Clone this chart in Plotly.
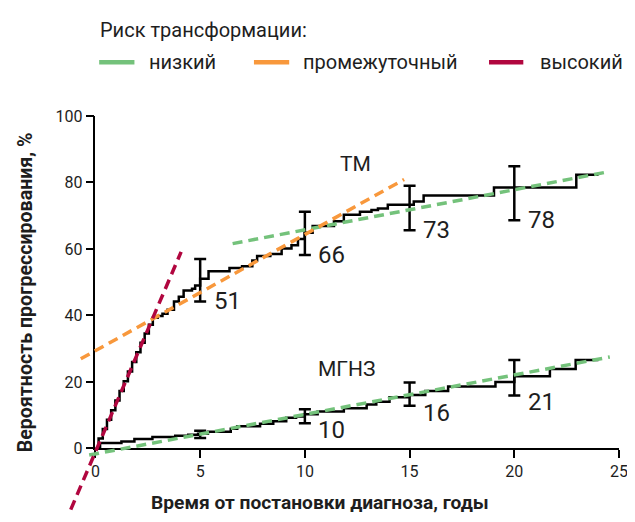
import plotly.graph_objects as go

# ---------------- data ----------------
# cumulative probability of progression (step curves)
tm_t = [0, 0.15, 0.35, 0.55, 0.75, 0.95, 1.15, 1.35, 1.55, 1.75, 1.95, 2.15, 2.35, 2.55,
        2.74, 2.97, 3.2, 3.44, 3.75, 3.98, 4.21, 4.61, 4.76, 5.0, 5.4, 6.4, 7.0, 7.49,
        7.72, 8.35, 8.89, 9.36, 9.67, 9.99, 10.37, 11.39, 11.86, 12.63, 13.18, 13.49,
        13.96, 15.2, 15.67, 19.03, 22.96, 24.02]
tm_y = [0, 3.0, 5.8, 8.6, 11.5, 14.4, 17.3, 20.2, 23.1, 26.0, 28.9, 31.8, 34.6, 37.2,
        39.3, 39.8, 40.5, 41.7, 44.2, 45.6, 47.5, 48.0, 49.0, 51.0, 53.3, 54.3, 54.8, 56.5,
        57.9, 58.5, 60.1, 61.1, 63.0, 64.9, 66.9, 68.3, 70.3, 71.2, 71.7, 72.2,
        73.3, 74.3, 76.1, 78.5, 82.3, 82.3]

mg_t = [0, 0.22, 1.24, 1.86, 2.72, 3.81, 4.43, 4.90, 5.37, 6.46, 6.77, 7.86, 8.49, 9.11,
        9.58, 9.99, 10.61, 11.86, 12.95, 13.41, 14.04, 14.97, 15.75, 16.84, 19.1, 20.0,
        21.7, 22.93, 24.02]
mg_y = [0, 1.6, 2.1, 2.8, 3.4, 3.8, 4.1, 4.4, 5.0, 5.9, 6.7, 7.4, 8.2, 9.2,
        9.6, 10.3, 11.1, 12.1, 13.2, 14.0, 15.4, 16.1, 17.3, 18.6, 20.0, 21.7,
        23.9, 26.6, 26.6]

# estimates with confidence intervals at 5, 10, 15, 20 years
ci_years = [5, 10, 15, 20]
tm_est = [51, 66, 73, 78]
tm_lo = [44.2, 58.2, 65.6, 68.6]
tm_hi = [57.0, 71.2, 79.0, 84.9]
mg_est = [4, 10, 16, 21]
mg_lo = [3.1, 7.6, 12.8, 15.9]
mg_hi = [5.3, 11.8, 19.8, 26.6]
mg_labelled = [False, True, True, True]

# transformation-risk trend lines (dashed)
red_x, red_y = [-1.18, 4.09], [-18.4, 59.1]
orange_x, orange_y = [-0.70, 14.74], [26.96, 80.9]
green_tm_x, green_tm_y = [6.55, 24.56], [61.6, 83.3]
green_mg_x, green_mg_y = [-0.3, 24.56], [-2.0, 27.5]

x_ticks = [0, 5, 10, 15, 20, 25]
y_ticks = [0, 20, 40, 60, 80, 100]

legend_title = "Риск трансформации:"
legend_names = ["низкий", "промежуточный", "высокий"]
x_title = "Время от постановки диагноза, годы"
y_title = "Вероятность прогрессирования, %"

# ---------------- styling ----------------
W, H = 635, 522
OFF = 8  # page body margin offset of the figure in the browser
GREEN, ORANGE, RED = "#74c27b", "#f8983c", "#b1063f"
TXT = "#1e1e1e"
FONT = "Roboto, Liberation Sans, sans-serif"
NARROW = "Liberation Sans Narrow, Roboto, sans-serif"

def px(xp):
    return (xp - OFF) / W

def py(yp):
    return (H - (yp - OFF)) / H

px_x0, px_x25 = 93.2, 627.7      # window pixel positions of x=0 and x=25
px_y0, px_y100 = 455.7, 110.7    # window pixel positions of y=0 and y=100
xd = [px(px_x0), px(px_x25)]
yd = [py(px_y0), py(px_y100)]

# overlay axis covering the whole figure with the same data scale
x2_range = [-xd[0] / (xd[1] - xd[0]) * 25, (1 - xd[0]) / (xd[1] - xd[0]) * 25]
y2_range = [-yd[0] / (yd[1] - yd[0]) * 100, (1 - yd[0]) / (yd[1] - yd[0]) * 100]

fig = go.Figure()

# step curves
for ts, ys in [(tm_t, tm_y), (mg_t, mg_y)]:
    fig.add_trace(go.Scatter(x=ts, y=ys, mode="lines", line=dict(color="black", width=2.5, shape="hv"),
                             showlegend=False, hoverinfo="skip"))

# error bars
for est, lo, hi in [(tm_est, tm_lo, tm_hi), (mg_est, mg_lo, mg_hi)]:
    fig.add_trace(go.Scatter(
        x=ci_years, y=est, mode="markers",
        marker=dict(size=1, color="rgba(0,0,0,0)"),
        error_y=dict(type="data", symmetric=False,
                     array=[h - e for h, e in zip(hi, est)],
                     arrayminus=[e - l for e, l in zip(est, lo)],
                     color="black", thickness=2.5, width=6),
        showlegend=False, hoverinfo="skip"))

# dashed trend lines on the overlay axes (not clipped by the plot area)
dash = "10px,6px"
for xs, ys, col in [(green_mg_x, green_mg_y, GREEN), (green_tm_x, green_tm_y, GREEN),
                    (orange_x, orange_y, ORANGE), (red_x, red_y, RED)]:
    fig.add_trace(go.Scatter(x=xs, y=ys, mode="lines", xaxis="x2", yaxis="y2",
                             line=dict(color=col, width=3.5, dash=dash),
                             showlegend=False, hoverinfo="skip"))

annotations = []
lab_font = dict(family=NARROW, size=24, color=TXT)
for x, e, lo in zip(ci_years, tm_est, tm_lo):
    annotations.append(dict(x=x + 0.55, y=lo, xref="x", yref="y", text=str(e), showarrow=False,
                            xanchor="left", yanchor="middle", font=lab_font))
for x, e, lo, show in zip(ci_years, mg_est, mg_lo, mg_labelled):
    if show:
        annotations.append(dict(x=x + 0.55, y=lo - 2.0, xref="x", yref="y", text=str(e), showarrow=False,
                                xanchor="left", yanchor="middle", font=lab_font))
annotations.append(dict(x=12.4, y=85.7, xref="x", yref="y", text="ТМ", showarrow=False,
                        xanchor="center", yanchor="middle", font=dict(family=NARROW, size=21, color=TXT)))
annotations.append(dict(x=12.0, y=24.0, xref="x", yref="y", text="МГНЗ", showarrow=False,
                        xanchor="center", yanchor="middle", font=dict(family=NARROW, size=21, color=TXT)))
annotations.append(dict(x=px(322), y=py(512), xref="paper", yref="paper", text=x_title, showarrow=False,
                        xanchor="center", yanchor="middle",
                        font=dict(family=FONT, size=19.2, color=TXT, weight="bold")))
annotations.append(dict(x=px(22), y=py(294), xref="paper", yref="paper", text=y_title, showarrow=False,
                        xanchor="center", yanchor="middle", textangle=-90,
                        font=dict(family=FONT, size=19.6, color=TXT, weight="bold")))
annotations.append(dict(x=px(96), y=py(22), xref="paper", yref="paper", text=legend_title, showarrow=False,
                        xanchor="left", yanchor="middle", font=dict(family=FONT, size=20, color=TXT)))
leg_line = [(97, 133), (255, 291), (495, 530)]
leg_text = [146, 303, 545]
shapes = []
for (a, b), tx, name, col in zip(leg_line, leg_text, legend_names, [GREEN, ORANGE, RED]):
    shapes.append(dict(type="line", xref="paper", yref="paper", x0=px(a), x1=px(b), y0=py(55), y1=py(55),
                       line=dict(color=col, width=4.5)))
    annotations.append(dict(x=px(tx), y=py(55), xref="paper", yref="paper", text=name, showarrow=False,
                            xanchor="left", yanchor="middle", font=dict(family=FONT, size=20, color=TXT)))

axis_common = dict(showgrid=False, zeroline=False, showline=True, linecolor="black", linewidth=1.5,
                   ticks="outside", ticklen=8, tickwidth=1.5, tickcolor="black",
                   tickfont=dict(family=FONT, size=16, color=TXT))

fig.update_layout(
    width=W, height=H,
    margin=dict(l=0, r=0, t=0, b=0),
    paper_bgcolor="white", plot_bgcolor="rgba(0,0,0,0)",
    xaxis=dict(domain=xd, range=[0, 25], tickvals=x_ticks, anchor="y", **axis_common),
    yaxis=dict(domain=yd, range=[0, 100], tickvals=y_ticks, anchor="x", **axis_common),
    xaxis2=dict(domain=[0, 1], range=x2_range, visible=False, anchor="y2", fixedrange=True),
    yaxis2=dict(domain=[0, 1], range=y2_range, visible=False, anchor="x2", fixedrange=True),
    annotations=annotations,
    shapes=shapes,
    showlegend=False,
)

fig.write_html("out.html")
